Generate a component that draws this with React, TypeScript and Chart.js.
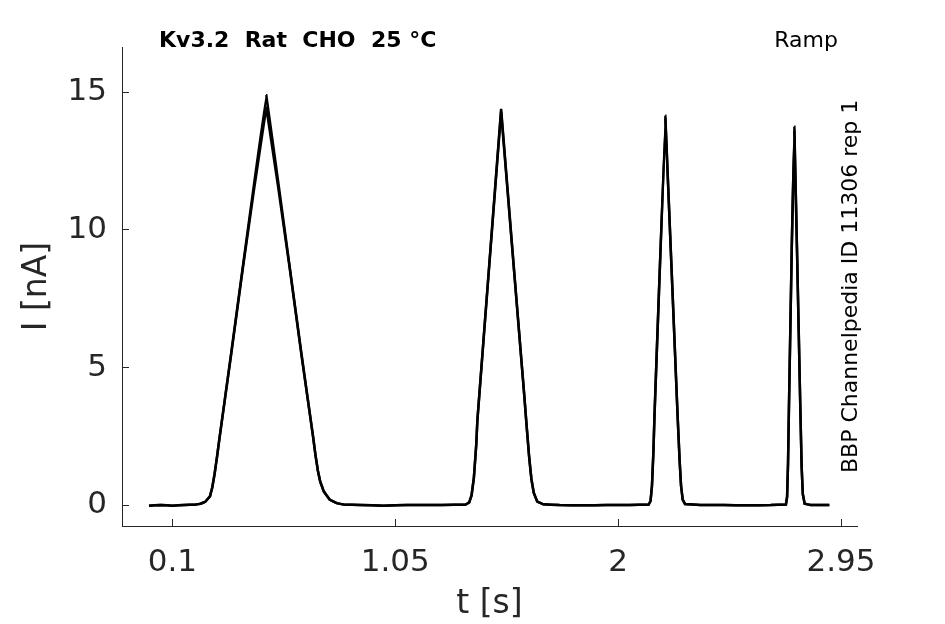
import React, { useEffect, useRef } from 'react';
import { Chart, registerables } from 'chart.js';

Chart.register(...registerables);

const timeS = [
  0, 0.05, 0.1, 0.15, 0.2, 0.22, 0.24, 0.26, 0.27, 0.28, 0.29, 0.3, 0.35, 0.4, 0.45, 0.5,
  0.55, 0.6, 0.65, 0.7, 0.71, 0.72, 0.73, 0.745, 0.77, 0.8, 0.83, 0.9, 1.0, 1.1, 1.2, 1.3,
  1.35, 1.365, 1.375, 1.385, 1.395, 1.4, 1.45, 1.501, 1.55, 1.59, 1.6, 1.61, 1.62, 1.63,
  1.64, 1.655, 1.68, 1.75, 1.85, 1.95, 2.05, 2.13, 2.138, 2.144, 2.15, 2.155, 2.201, 2.253,
  2.262, 2.268, 2.275, 2.285, 2.35, 2.45, 2.55, 2.65, 2.715, 2.72, 2.724, 2.728, 2.74, 2.751,
  2.762, 2.777, 2.782, 2.787, 2.795, 2.82, 2.86, 2.9,
];
const currentRep1 = [
  -0.02, 0, -0.02, 0, 0.02, 0.05, 0.12, 0.32, 0.65, 1.15, 1.75, 2.4, 5.5, 8.67, 11.8, 14.9,
  11.8, 8.65, 5.5, 2.45, 1.8, 1.25, 0.85, 0.5, 0.2, 0.07, 0.02, 0, -0.02, 0, 0, 0.01,
  0.02, 0.1, 0.35, 1.0, 2.2, 3.1, 8.7, 14.4, 9.2, 5.0, 3.95, 2.85, 1.8, 0.95,
  0.45, 0.13, 0.03, 0, -0.01, 0, 0, 0.02, 0.15, 0.7, 1.9, 3.3, 14.15, 3.3,
  1.6, 0.7, 0.2, 0.04, 0, 0, -0.01, 0, 0.02, 0.3, 1.5, 3.6, 9.4, 13.75,
  9.4, 3.3, 1.4, 0.4, 0.05, 0, 0, 0,
];
const currentRep2 = [
  -0.02, 0, -0.02, 0, 0.02, 0.05, 0.12, 0.32, 0.65, 1.15, 1.75, 2.4, 5.45, 8.6, 11.6, 14.45,
  11.6, 8.6, 5.45, 2.45, 1.8, 1.25, 0.85, 0.5, 0.2, 0.07, 0.02, 0, -0.02, 0, 0, 0.01,
  0.02, 0.1, 0.35, 1.0, 2.2, 3.1, 8.65, 14.3, 9.15, 5.0, 3.95, 2.85, 1.8, 0.95,
  0.45, 0.13, 0.03, 0, -0.01, 0, 0, 0.02, 0.15, 0.7, 1.9, 3.3, 14.05, 3.3,
  1.6, 0.7, 0.2, 0.04, 0, 0, -0.01, 0, 0.02, 0.3, 1.5, 3.6, 9.35, 13.6,
  9.35, 3.3, 1.4, 0.4, 0.05, 0, 0, 0,
];

const xTicks = [0.1, 1.05, 2, 2.95];
const yTicks = [0, 5, 10, 15];

const FONT = '"DejaVu Sans", sans-serif';
const AXIS = '#262626';

const annotations = {
  id: 'annotations',
  afterDraw(chart) {
    const { ctx, chartArea } = chart;
    ctx.save();
    ctx.fillStyle = '#000';
    ctx.textBaseline = 'alphabetic';
    ctx.font = 'bold 22px ' + FONT;
    ctx.textAlign = 'left';
    ctx.fillText('Kv3.2  Rat  CHO  25 °C', 159, chartArea.top);
    ctx.font = '22px ' + FONT;
    ctx.textAlign = 'right';
    ctx.fillText('Ramp', 838, chartArea.top);
    // vertical id label on the right
    ctx.translate(857, 473);
    ctx.rotate(-Math.PI / 2);
    ctx.textAlign = 'left';
    ctx.fillText('BBP Channelpedia ID 11306 rep 1', 0, 0);
    ctx.restore();
  },
};

const toPoints = (ys) => timeS.map((t, i) => ({ x: t, y: ys[i] }));

const App = () => {
  const canvasRef = useRef(null);
  const chartRef = useRef(null);

  useEffect(() => {
    if (chartRef.current) chartRef.current.destroy();
    const ctx = canvasRef.current.getContext('2d');

    // tiny tension keeps the lines straight but avoids the fast path,
    // which draws close points as vertical bars
    const trace = {
      borderColor: '#000',
      borderWidth: 2.5,
      pointRadius: 0,
      tension: 0.001,
    };

    chartRef.current = new Chart(ctx, {
      type: 'line',
      data: {
        datasets: [
          { ...trace, label: 'rep 1', data: toPoints(currentRep1) },
          { ...trace, label: 'rep 2', data: toPoints(currentRep2) },
        ],
      },
      options: {
        responsive: true,
        maintainAspectRatio: false,
        animation: false,
        layout: { padding: { left: 0, right: 88, top: 47, bottom: 0 } },
        plugins: {
          legend: { display: false },
          tooltip: { enabled: false },
        },
        scales: {
          x: {
            type: 'linear',
            min: -0.115,
            max: 3.018,
            afterBuildTicks: (scale) => {
              scale.ticks = xTicks.map((v) => ({ value: v }));
            },
            afterFit: (scale) => {
              scale.height = 98;
            },
            grid: { drawOnChartArea: false, tickLength: -7, color: AXIS, lineWidth: 1 },
            border: { color: AXIS, width: 1 },
            ticks: {
              color: AXIS,
              padding: 25,
              maxRotation: 0,
              font: { family: FONT, size: 31 },
              callback: (v) => String(v),
            },
            title: {
              display: true,
              text: 't [s]',
              color: AXIS,
              font: { family: FONT, size: 33 },
              padding: 0,
            },
          },
          y: {
            min: -0.76,
            max: 16.65,
            afterBuildTicks: (scale) => {
              scale.ticks = yTicks.map((v) => ({ value: v }));
            },
            afterFit: (scale) => {
              scale.width = 122;
            },
            grid: { drawOnChartArea: false, tickLength: -7, color: AXIS, lineWidth: 1 },
            border: { color: AXIS, width: 1 },
            ticks: {
              color: AXIS,
              padding: 22,
              font: { family: FONT, size: 31 },
              callback: (v) => String(v),
            },
            title: {
              display: true,
              text: 'I [nA]',
              color: AXIS,
              font: { family: FONT, size: 33 },
              padding: { top: 18, bottom: 0 },
            },
          },
        },
      },
      plugins: [annotations],
    });

    return () => {
      if (chartRef.current) {
        chartRef.current.destroy();
        chartRef.current = null;
      }
    };
  }, []);

  return (
    <div style={{ position: 'fixed', left: 0, top: 0, width: 945, height: 624, background: '#fff' }}>
      <canvas ref={canvasRef} />
    </div>
  );
};

export default App;
